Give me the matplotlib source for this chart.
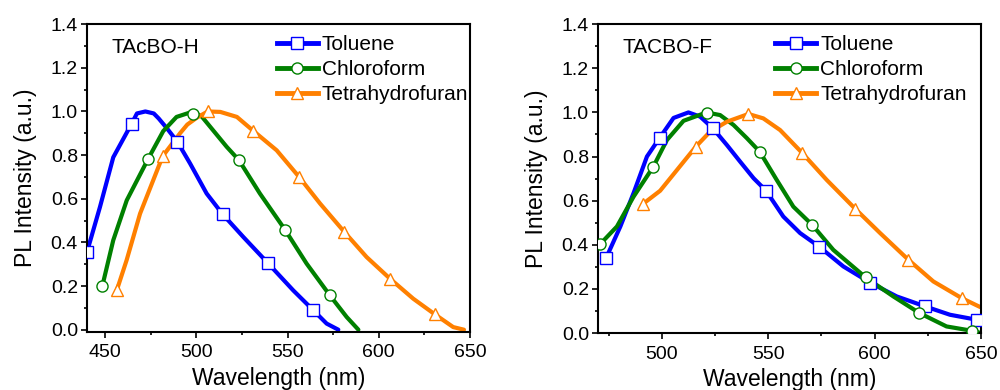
import matplotlib
matplotlib.use("Agg")
import matplotlib.pyplot as plt
from matplotlib.lines import Line2D
from matplotlib.ticker import MultipleLocator

plt.rcParams["font.family"] = ["Liberation Sans", "DejaVu Sans"]

#solvents and styles
solvents = ["Toluene", "Chloroform", "Tetrahydrofuran"]
colors = ["#0000ff", "#008000", "#ff8000"]
markers = ["s", "o", "^"]

#_____________________________________________________________________________
#TAcBO-H, curves
h_tol_x = [440, 447.1, 454.4, 464.4, 467.4, 472.0, 476.6, 479.3, 483.9, 489.5, 496.5, 505.6, 514.4, 525.7, 539.1, 553.1, 564.1, 571.4, 577.8]
h_tol_y = [0.356, 0.562, 0.79, 0.943, 0.991, 1.0, 0.991, 0.968, 0.922, 0.862, 0.762, 0.624, 0.529, 0.425, 0.306, 0.18, 0.089, 0.028, 0.0]
h_chl_x = [448.4, 454.4, 461.8, 473.6, 481.8, 489.1, 498.2, 503.1, 516.6, 523.3, 534.8, 548.5, 560.4, 573.2, 582.4, 588.8]
h_chl_y = [0.20, 0.41, 0.593, 0.784, 0.91, 0.975, 1.0, 0.975, 0.838, 0.777, 0.624, 0.459, 0.303, 0.157, 0.058, 0.0]
h_thf_x = [456.3, 461.7, 469.1, 481.5, 491.0, 495.0, 500.3, 506.2, 513.1, 522.2, 531.2, 544.0, 556.3, 567.8, 581.1, 593.3, 606.1, 618.9, 630.8, 640.8, 646.7]
h_thf_y = [0.18, 0.318, 0.532, 0.795, 0.90, 0.94, 0.972, 1.0, 0.998, 0.975, 0.911, 0.822, 0.700, 0.578, 0.448, 0.333, 0.234, 0.142, 0.070, 0.012, 0.0]

#TAcBO-H, symbols
h_tol_mx = [440, 464.4, 489.5, 514.4, 539.1, 564.1]
h_tol_my = [0.356, 0.943, 0.862, 0.529, 0.306, 0.089]
h_chl_mx = [448.4, 473.6, 498.2, 523.3, 548.5, 573.2]
h_chl_my = [0.20, 0.784, 0.99, 0.777, 0.459, 0.157]
h_thf_mx = [456.3, 481.5, 506.2, 531.2, 556.3, 581.1, 606.1, 630.8]
h_thf_my = [0.18, 0.795, 1.003, 0.911, 0.700, 0.448, 0.234, 0.070]

#_____________________________________________________________________________
#TACBO-F, curves
f_tol_x = [473.9, 480.5, 486.7, 493.0, 499.0, 505.5, 512.5, 518.0, 524.0, 530.6, 536.8, 543.1, 548.9, 557.1, 565.0, 573.9, 585.3, 597.8, 610.4, 623.7, 635.4, 648.2, 650]
f_tol_y = [0.342, 0.483, 0.634, 0.80, 0.885, 0.975, 1.0, 0.981, 0.928, 0.852, 0.777, 0.702, 0.646, 0.528, 0.453, 0.392, 0.302, 0.229, 0.166, 0.121, 0.083, 0.060, 0.058]
f_chl_x = [471.1, 478.9, 486.7, 496.0, 502.4, 510.2, 521.0, 527.4, 533.7, 540.0, 546.0, 554.0, 561.8, 570.7, 580.6, 595.8, 608.8, 621.0, 633.8, 646.0, 650]
f_chl_y = [0.404, 0.483, 0.618, 0.754, 0.875, 0.962, 1.0, 0.988, 0.943, 0.883, 0.822, 0.694, 0.573, 0.49, 0.377, 0.252, 0.166, 0.091, 0.03, 0.01, 0.0]
f_thf_x = [491.1, 499.2, 507.1, 516.0, 522.7, 530.6, 540.7, 547.7, 555.6, 565.8, 577.5, 590.9, 602.6, 615.9, 627.6, 641.0, 649.6]
f_thf_y = [0.585, 0.645, 0.739, 0.845, 0.913, 0.958, 0.993, 0.973, 0.92, 0.818, 0.694, 0.563, 0.453, 0.332, 0.234, 0.158, 0.118]

#TACBO-F, symbols
f_tol_mx = [473.9, 499.0, 524.0, 548.9, 573.9, 597.8, 623.7, 648.2]
f_tol_my = [0.342, 0.885, 0.928, 0.646, 0.392, 0.229, 0.121, 0.060]
f_chl_mx = [471.1, 496.0, 521.0, 546.0, 570.7, 595.8, 621.0, 646.0]
f_chl_my = [0.404, 0.754, 0.999, 0.822, 0.49, 0.252, 0.091, 0.01]
f_thf_mx = [491.1, 516.0, 540.7, 565.8, 590.9, 615.9, 641.0]
f_thf_my = [0.585, 0.845, 0.993, 0.818, 0.563, 0.332, 0.158]

#_____________________________________________________________________________
def draw_panel(ax, curves, symbols, title, xlim, ylim, leg_x):

    for i in range(3):
        cx, cy = curves[i]
        mx, my = symbols[i]
        ax.plot(cx, cy, "-", color=colors[i], lw=3, solid_capstyle="round",
                solid_joinstyle="round", zorder=2)
        ax.plot(mx, my, ls="none", marker=markers[i], ms=8, mfc="white",
                mec=colors[i], mew=1.0, zorder=3)

    ax.set_xlim(*xlim)
    ax.set_ylim(*ylim)
    ax.xaxis.set_major_locator(MultipleLocator(50))
    ax.xaxis.set_minor_locator(MultipleLocator(25))
    ax.yaxis.set_major_locator(MultipleLocator(0.2))
    ax.yaxis.set_minor_locator(MultipleLocator(0.1))
    ax.yaxis.set_major_formatter(plt.FormatStrFormatter("%.1f"))

    ax.tick_params(which="major", direction="out", length=4, width=1.2, labelsize=14,
                   top=False, right=False, pad=2.5)
    ax.tick_params(axis="x", which="major", pad=5)
    ax.tick_params(which="minor", direction="out", length=2.5, width=1.2,
                   top=False, right=False)
    for s in ax.spines.values():
        s.set_linewidth(1.5)

    ax.set_xlabel("Wavelength (nm)", fontsize=16.5, labelpad=4)
    ax.set_ylabel("PL Intensity (a.u.)", fontsize=16.5, labelpad=10)

    ax.text(0.065, 0.925, title, transform=ax.transAxes, fontsize=15, va="center", ha="left")

    handles = []
    for i in range(3):
        handles.append(Line2D([], [], color=colors[i], lw=3.5, marker=markers[i], ms=8,
                              mfc="white", mec=colors[i], mew=1.0))
    ax.legend(handles, solvents, loc="upper left", bbox_to_anchor=(leg_x, 0.965),
              frameon=False, fontsize=15, handlelength=1.95, handletextpad=0.2,
              labelspacing=0.3, borderpad=0, borderaxespad=0)

#draw_panel

#_____________________________________________________________________________
def main():

    fig = plt.figure(figsize=(10, 3.9), dpi=100)
    ax1 = fig.add_axes([0.087, 0.149, 0.383, 0.789])
    ax2 = fig.add_axes([0.598, 0.146, 0.383, 0.792])

    draw_panel(ax1,
               [(h_tol_x, h_tol_y), (h_chl_x, h_chl_y), (h_thf_x, h_thf_y)],
               [(h_tol_mx, h_tol_my), (h_chl_mx, h_chl_my), (h_thf_mx, h_thf_my)],
               "TAcBO-H", (440, 650), (-0.01, 1.4), 0.496)

    draw_panel(ax2,
               [(f_tol_x, f_tol_y), (f_chl_x, f_chl_y), (f_thf_x, f_thf_y)],
               [(f_tol_mx, f_tol_my), (f_chl_mx, f_chl_my), (f_thf_mx, f_thf_my)],
               "TACBO-F", (470, 650), (0.0, 1.4), 0.463)

    fig.savefig("out.png", dpi=100)
    plt.close()

#main

if __name__ == "__main__":

    main()
